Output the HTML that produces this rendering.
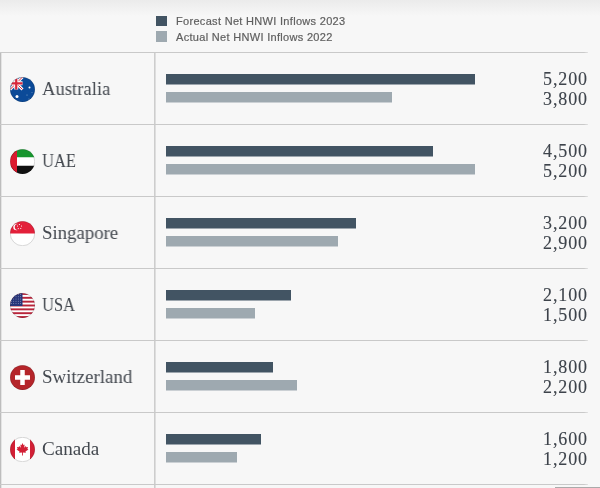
<!DOCTYPE html>
<html><head><meta charset="utf-8"><style>
html,body{margin:0;padding:0;}
body{width:600px;height:488px;overflow:hidden;position:relative;-webkit-font-smoothing:antialiased;background:#f7f7f7;font-family:"Liberation Serif",serif;}
.topgrad{position:absolute;left:0;top:0;width:600px;height:16px;background:linear-gradient(#ebebeb,#f7f7f7);}
.lg{position:absolute;left:156px;width:10.5px;height:10.5px;}
.lt{position:absolute;left:175.7px;-webkit-text-stroke:0.2px #5f5f5f;font-family:"Liberation Sans",sans-serif;font-size:11px;color:#5f5f5f;line-height:13px;white-space:nowrap;letter-spacing:0.31px;will-change:transform;}
.hl{position:absolute;left:0;width:588px;height:1px;background:linear-gradient(90deg,#c9c9c9 584px,#e2e2e2 588px);}
.vl{position:absolute;top:52px;width:1px;height:436px;background:#c9c9c9;}
.flag{position:absolute;}
.name{position:absolute;font-size:19px;line-height:24px;color:#43484f;white-space:nowrap;transform-origin:0 0;will-change:transform;}
.bar{position:absolute;left:166px;height:11px;}
.d{background:linear-gradient(#425463 0 10px,#9ca5ad 10px 11px);}
.l{background:linear-gradient(#9ea9b0 0 10px,#cbd0d4 10px 11px);}
.num{position:absolute;right:12.5px;-webkit-text-stroke:0.12px #3d434b;font-size:18px;letter-spacing:0.9px;line-height:20px;color:#3d434b;text-align:right;white-space:nowrap;transform-origin:100% 0;transform:scaleX(1.0);will-change:transform;}
.bot{position:absolute;left:555px;top:487px;width:45px;height:1px;background:#aaa;}
</style></head><body>
<div class="topgrad"></div>
<div class="lg" style="top:15.8px;background:#425463"></div>
<div class="lg" style="top:31.3px;background:#9ea9b0"></div>
<div class="lt" style="top:15px">Forecast Net HNWI Inflows 2023</div>
<div class="lt" style="top:31px">Actual Net HNWI Inflows 2022</div>
<div class="vl" style="left:0;background:#bdbdbd"></div>
<div class="vl" style="left:1px;background:#e4e4e4"></div>
<div class="vl" style="left:154px;background:#cdcdcd"></div>
<div class="vl" style="left:155px;background:#dedede"></div>
<svg class="flag" style="left:9.60px;top:76.60px" width="25.00" height="25.00" viewBox="0 0 100 100"><defs><clipPath id="c0"><circle cx="50" cy="50" r="49.5"/></clipPath></defs><g clip-path="url(#c0)"><rect width="100" height="100" fill="#0b4a98"/>
<path d="M0 0L50 50M50 0L0 50" stroke="#fff" stroke-width="12"/>
<path d="M0 0L50 50M50 0L0 50" stroke="#d8263a" stroke-width="4"/>
<path d="M25 0V50M0 25H50" stroke="#fff" stroke-width="16"/>
<path d="M25 0V50M0 25H50" stroke="#d8263a" stroke-width="9"/>
<circle cx="28" cy="78" r="6" fill="#fff"/>
<circle cx="78" cy="42" r="4" fill="#fff"/>
<circle cx="68" cy="72" r="2" fill="#fff" opacity="0.6"/>
<circle cx="88" cy="62" r="1.8" fill="#fff" opacity="0.6"/>
<circle cx="76" cy="88" r="2" fill="#fff" opacity="0.6"/></g><circle cx="50" cy="50" r="49" fill="none" stroke="rgba(0,0,0,0.22)" stroke-width="2.8"/></svg>
<div class="name" style="left:42.30px;top:77.00px;transform:scaleX(0.9800)">Australia</div>
<div class="bar d" style="top:74px;width:309.0px"></div>
<div class="bar l" style="top:92px;width:225.8px"></div>
<div class="num" style="top:68.75px">5,200</div>
<div class="num" style="top:88.85px">3,800</div>
<div class="hl" style="top:52px"></div>
<svg class="flag" style="left:9.60px;top:148.60px" width="25.00" height="25.00" viewBox="0 0 100 100"><defs><clipPath id="c1"><circle cx="50" cy="50" r="49.5"/></clipPath></defs><g clip-path="url(#c1)"><rect width="100" height="100" fill="#fff"/>
<rect x="0" y="0" width="100" height="33" fill="#17962e"/>
<rect x="0" y="67" width="100" height="33" fill="#111"/>
<rect x="0" y="0" width="28" height="100" fill="#dc1a2e"/></g><circle cx="50" cy="50" r="49" fill="none" stroke="rgba(0,0,0,0.22)" stroke-width="2.8"/></svg>
<div class="name" style="left:42.30px;top:149.00px;transform:scaleX(0.8700)">UAE</div>
<div class="bar d" style="top:146px;width:267.4px"></div>
<div class="bar l" style="top:164px;width:309.0px"></div>
<div class="num" style="top:140.75px">4,500</div>
<div class="num" style="top:160.85px">5,200</div>
<div class="hl" style="top:124px"></div>
<svg class="flag" style="left:9.60px;top:220.60px" width="25.00" height="25.00" viewBox="0 0 100 100"><defs><clipPath id="c2"><circle cx="50" cy="50" r="49.5"/></clipPath></defs><g clip-path="url(#c2)"><rect width="100" height="100" fill="#fff"/>
<rect x="0" y="0" width="100" height="50" fill="#e3203a"/>
<circle cx="26" cy="24" r="13" fill="#fff"/>
<circle cx="31" cy="24" r="12" fill="#e3203a"/>
<g fill="#fff"><circle cx="38" cy="14" r="2.3"/><circle cx="46" cy="20" r="2.3"/><circle cx="43" cy="30" r="2.3"/><circle cx="33" cy="30" r="2.3"/><circle cx="30" cy="20" r="2.3"/></g></g><circle cx="50" cy="50" r="49" fill="none" stroke="rgba(0,0,0,0.22)" stroke-width="2.8"/></svg>
<div class="name" style="left:42.30px;top:221.00px;transform:scaleX(0.9900)">Singapore</div>
<div class="bar d" style="top:218px;width:190.2px"></div>
<div class="bar l" style="top:236px;width:172.3px"></div>
<div class="num" style="top:212.75px">3,200</div>
<div class="num" style="top:232.85px">2,900</div>
<div class="hl" style="top:196px"></div>
<svg class="flag" style="left:9.60px;top:292.60px" width="25.00" height="25.00" viewBox="0 0 100 100"><defs><clipPath id="c3"><circle cx="50" cy="50" r="49.5"/></clipPath></defs><g clip-path="url(#c3)"><rect width="100" height="100" fill="#fff"/>
<g fill="#b8243a"><rect x="0" y="0.00" width="100" height="7.69"/><rect x="0" y="15.38" width="100" height="7.69"/><rect x="0" y="30.77" width="100" height="7.69"/><rect x="0" y="46.15" width="100" height="7.69"/><rect x="0" y="61.54" width="100" height="7.69"/><rect x="0" y="76.92" width="100" height="7.69"/><rect x="0" y="92.31" width="100" height="7.69"/></g>
<rect x="0" y="0" width="50" height="52.00" fill="#27357a"/>
<g fill="#fff" opacity="0.8"><circle cx="6" cy="6" r="1.6"/><circle cx="15" cy="6" r="1.6"/><circle cx="24" cy="6" r="1.6"/><circle cx="33" cy="6" r="1.6"/><circle cx="42" cy="6" r="1.6"/><circle cx="6" cy="15" r="1.6"/><circle cx="15" cy="15" r="1.6"/><circle cx="24" cy="15" r="1.6"/><circle cx="33" cy="15" r="1.6"/><circle cx="42" cy="15" r="1.6"/><circle cx="6" cy="24" r="1.6"/><circle cx="15" cy="24" r="1.6"/><circle cx="24" cy="24" r="1.6"/><circle cx="33" cy="24" r="1.6"/><circle cx="42" cy="24" r="1.6"/><circle cx="6" cy="33" r="1.6"/><circle cx="15" cy="33" r="1.6"/><circle cx="24" cy="33" r="1.6"/><circle cx="33" cy="33" r="1.6"/><circle cx="42" cy="33" r="1.6"/><circle cx="6" cy="42" r="1.6"/><circle cx="15" cy="42" r="1.6"/><circle cx="24" cy="42" r="1.6"/><circle cx="33" cy="42" r="1.6"/><circle cx="42" cy="42" r="1.6"/></g></g><circle cx="50" cy="50" r="49" fill="none" stroke="rgba(0,0,0,0.22)" stroke-width="2.8"/></svg>
<div class="name" style="left:42.30px;top:293.00px;transform:scaleX(0.8700)">USA</div>
<div class="bar d" style="top:290px;width:124.8px"></div>
<div class="bar l" style="top:308px;width:89.1px"></div>
<div class="num" style="top:284.75px">2,100</div>
<div class="num" style="top:304.85px">1,500</div>
<div class="hl" style="top:268px"></div>
<svg class="flag" style="left:9.60px;top:364.60px" width="25.00" height="25.00" viewBox="0 0 100 100"><defs><clipPath id="c4"><circle cx="50" cy="50" r="49.5"/></clipPath></defs><g clip-path="url(#c4)"><rect width="100" height="100" fill="#b5252a"/>
<rect x="41" y="20" width="18" height="60" fill="#fff"/>
<rect x="20" y="41" width="60" height="18" fill="#fff"/></g><circle cx="50" cy="50" r="49" fill="none" stroke="rgba(0,0,0,0.22)" stroke-width="2.8"/></svg>
<div class="name" style="left:42.30px;top:365.00px;transform:scaleX(0.9950)">Switzerland</div>
<div class="bar d" style="top:362px;width:107.0px"></div>
<div class="bar l" style="top:380px;width:130.7px"></div>
<div class="num" style="top:356.75px">1,800</div>
<div class="num" style="top:376.85px">2,200</div>
<div class="hl" style="top:340px"></div>
<svg class="flag" style="left:9.60px;top:436.60px" width="25.00" height="25.00" viewBox="0 0 100 100"><defs><clipPath id="c5"><circle cx="50" cy="50" r="49.5"/></clipPath></defs><g clip-path="url(#c5)"><rect width="100" height="100" fill="#fff"/>
<rect x="0" y="0" width="20" height="100" fill="#d21f35"/>
<rect x="80" y="0" width="20" height="100" fill="#d21f35"/>
<path fill="#d21f35" transform="translate(50 49) scale(0.85) translate(-50 -49)" d="M50 20 L55 30 L60 27 L58 42 L66 34 L68 40 L76 38 L73 48 L78 50 L64 60 L66 66 L52 64 L52 78 L48 78 L48 64 L34 66 L36 60 L22 50 L27 48 L24 38 L32 40 L34 34 L42 42 L40 27 L45 30 Z"/></g><circle cx="50" cy="50" r="49" fill="none" stroke="rgba(0,0,0,0.22)" stroke-width="2.8"/></svg>
<div class="name" style="left:42.30px;top:437.00px;transform:scaleX(1.0050)">Canada</div>
<div class="bar d" style="top:434px;width:95.1px"></div>
<div class="bar l" style="top:452px;width:71.3px"></div>
<div class="num" style="top:428.75px">1,600</div>
<div class="num" style="top:448.85px">1,200</div>
<div class="hl" style="top:412px"></div>
<div class="hl" style="top:484px"></div>
<div class="bot"></div>
</body></html>
